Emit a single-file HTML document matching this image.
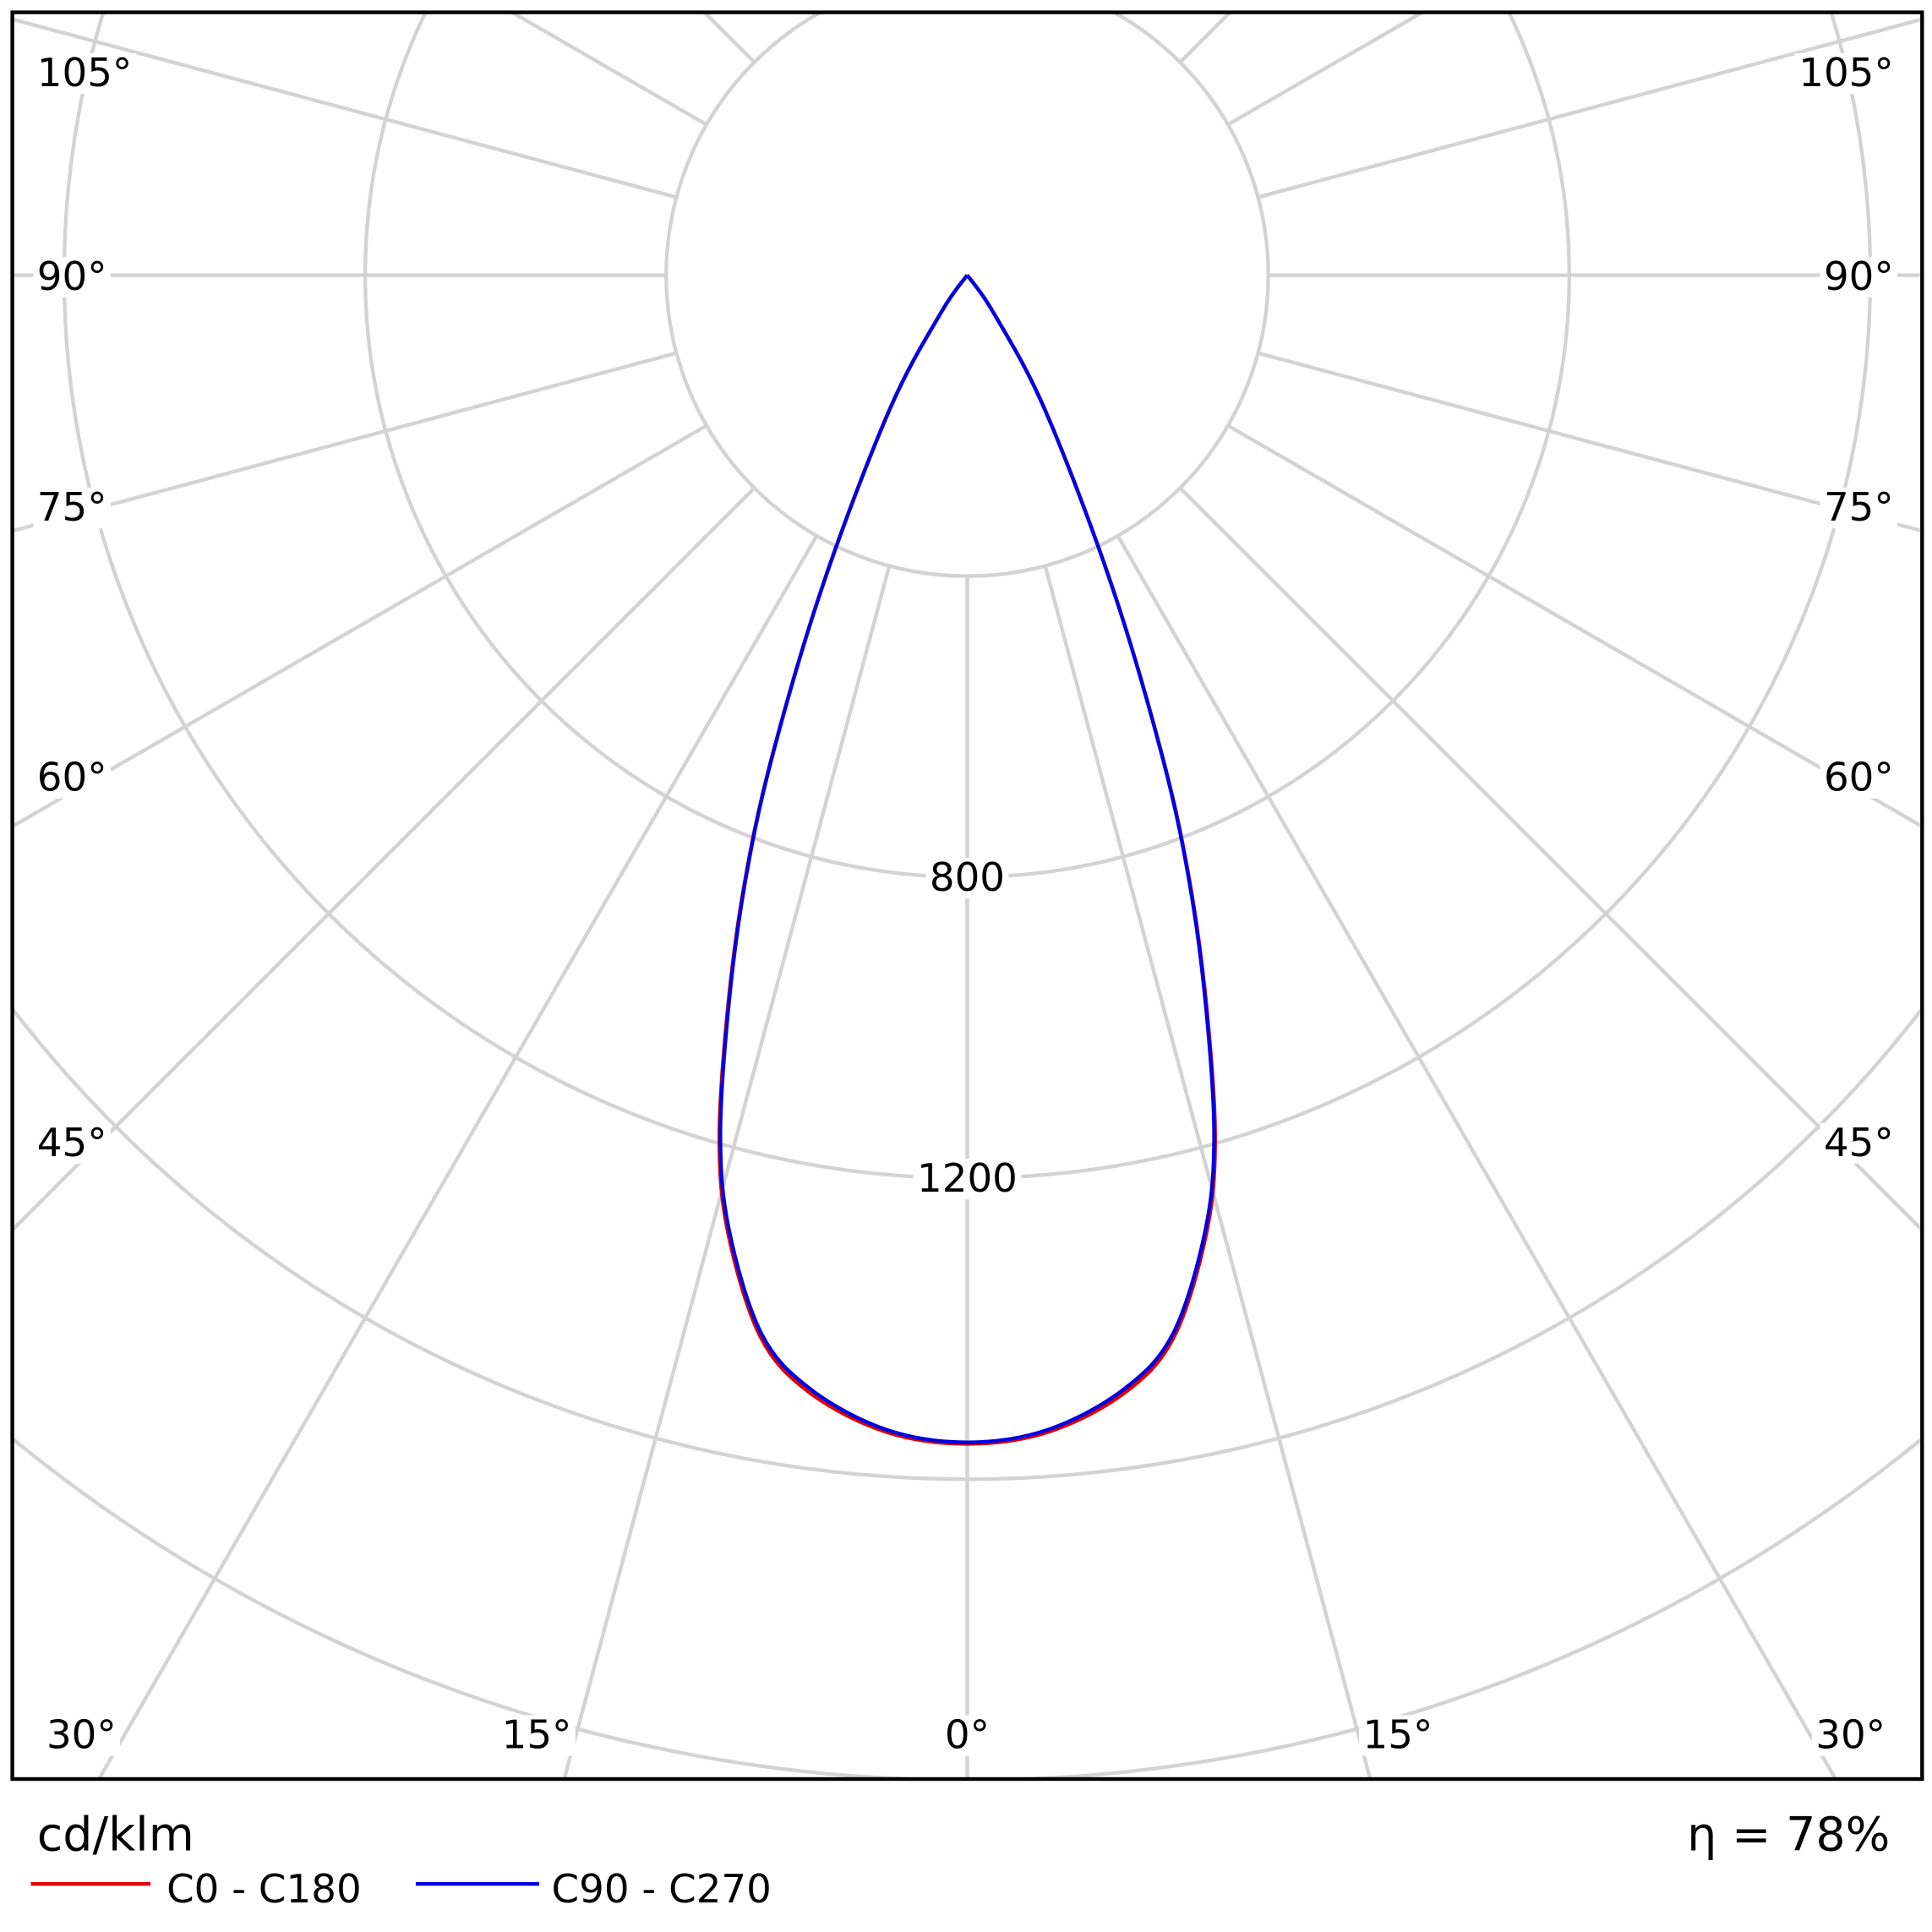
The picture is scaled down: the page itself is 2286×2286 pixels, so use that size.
<!DOCTYPE html>
<html><head><meta charset="utf-8"><style>html,body{margin:0;padding:0;background:#fff;width:2286px;height:2286px;overflow:hidden}svg{display:block}</style></head>
<body>
<svg id="chart" width="2286" height="2286" viewBox="0 0 1566 1566" xmlns="http://www.w3.org/2000/svg" font-family="'DejaVu Sans','Liberation Sans',sans-serif" overflow="hidden">
<defs><clipPath id="clip"><rect x="10" y="10" width="1548" height="1432"/></clipPath></defs>
<g id="grid" clip-path="url(#clip)"></g>
<g id="curves" clip-path="url(#clip)"></g>
<g id="labels"></g>
<rect x="10" y="10" width="1548" height="1432" fill="none" stroke="#000" stroke-width="3"/>
<text x="30" y="1500" font-size="38">cd/klm</text>
<text x="1532" y="1500" font-size="38" text-anchor="end">η = 78%</text>
<line x1="25" y1="1527" x2="122" y2="1527" stroke="#e00000" stroke-width="3"/>
<text x="135" y="1542" font-size="32">C0 - C180</text>
<line x1="337" y1="1527" x2="437" y2="1527" stroke="#0000e0" stroke-width="3"/>
<text x="447" y="1542" font-size="32">C90 - C270</text>
</svg>
<script>
const angles = [0,4,8,11,14,16,18,20,22,25,30,35,40];
const c0Values = [1553,1541,1500,1438,1313,1195,1032,870,697,453,207,61,0];
const c90Values = [1551,1538,1495,1433,1308,1190,1028,867,695,452,206,60,0];
const ringValues = [400,800,1200,1600,2000];
const ringLabels = ["","800","1200","",""];
const spokeAngles = [0,15,30,45,60,75,90,105,120,135,150,165,180];

const NS="http://www.w3.org/2000/svg";
const cx=784, cy=223, pxPer=244/400;
const rScale=v=>v*pxPer;
const FX0=10,FX1=1558,FY0=10,FY1=1442;
function pt(deg,v){const a=deg*Math.PI/180;return [cx+rScale(v)*Math.sin(a), cy+rScale(v)*Math.cos(a)];}
function edge(deg){const a=deg*Math.PI/180,dx=Math.sin(a),dy=Math.cos(a);let t=1e9;
  if(dx>1e-9)t=Math.min(t,(FX1-cx)/dx);if(dx<-1e-9)t=Math.min(t,(FX0-cx)/dx);
  if(dy>1e-9)t=Math.min(t,(FY1-cy)/dy);if(dy<-1e-9)t=Math.min(t,(FY0-cy)/dy);
  return [cx+dx*t,cy+dy*t];}
function mk(tag,attrs,parent){const e=document.createElementNS(NS,tag);for(const k in attrs)e.setAttribute(k,attrs[k]);parent.appendChild(e);return e;}
const grid=document.getElementById('grid');
ringValues.forEach(v=>{
  const c=mk('circle',{cx:cx,cy:cy,r:rScale(v),fill:'none',stroke:'#d3d3d3','stroke-width':3},grid);
  
  
});
spokeAngles.forEach(a=>{
  [1,-1].forEach(s=>{
    const p1=pt(a*s,ringValues[0]),p2=edge(a*s);
    const l=mk('line',{x1:p1[0],y1:p1[1],x2:p2[0],y2:p2[1],stroke:'#d3d3d3','stroke-width':3},grid);
    
    
  });
});
const curves=document.getElementById('curves');
function drawCurve(vals,color,name){
  const pts=[];
  for(let i=angles.length-1;i>=0;i--)pts.push(pt(-angles[i],vals[i]));
  for(let i=1;i<angles.length;i++)pts.push(pt(angles[i],vals[i]));
  let d='M'+pts[0][0]+','+pts[0][1];
  for(let i=0;i<pts.length-1;i++){
    const p0=pts[Math.max(0,i-1)],p1=pts[i],p2=pts[i+1],p3=pts[Math.min(pts.length-1,i+2)];
    const c1=[p1[0]+(p2[0]-p0[0])/6,p1[1]+(p2[1]-p0[1])/6],c2=[p2[0]-(p3[0]-p1[0])/6,p2[1]-(p3[1]-p1[1])/6];
    d+=' C'+c1[0]+','+c1[1]+' '+c2[0]+','+c2[1]+' '+p2[0]+','+p2[1];
  }
  const p=mk('path',{d:d,fill:'none',stroke:color,'stroke-width':3,'stroke-linejoin':'round'},curves);
  
  
}
drawCurve(c0Values,'#e00000','curve-c0-c180');
drawCurve(c90Values,'#0000e0','curve-c90-c270');
const labels=document.getElementById('labels');
function label(x,y,txt,anchor,name){
  const t=mk('text',{x:x,y:y,'font-size':32,'text-anchor':anchor},labels);
  t.textContent=txt;
  
  
  const b=t.getBBox();
  const r=document.createElementNS(NS,'rect');
  r.setAttribute('x',b.x-3);r.setAttribute('y',b.y+2);r.setAttribute('width',b.width+6);r.setAttribute('height',b.height-4);r.setAttribute('fill','#fff');
  labels.insertBefore(r,t);
}
ringValues.forEach((v,i)=>{ if(ringLabels[i]) label(cx,cy+rScale(v)+11,ringLabels[i],'middle','ring-label-'+v); });
const sideLabels=[["105°",70],["90°",235],["75°",422],["60°",641],["45°",937]];
sideLabels.forEach(s=>{label(30,s[1],s[0],'start','angle-label-left');label(1535,s[1],s[0],'end','angle-label-right');});
[["30°",66],["15°",435],["0°",784],["15°",1133],["30°",1500]].forEach(s=>label(s[1],1417,s[0],'middle','angle-label-bottom'));
</script>
</body></html>
